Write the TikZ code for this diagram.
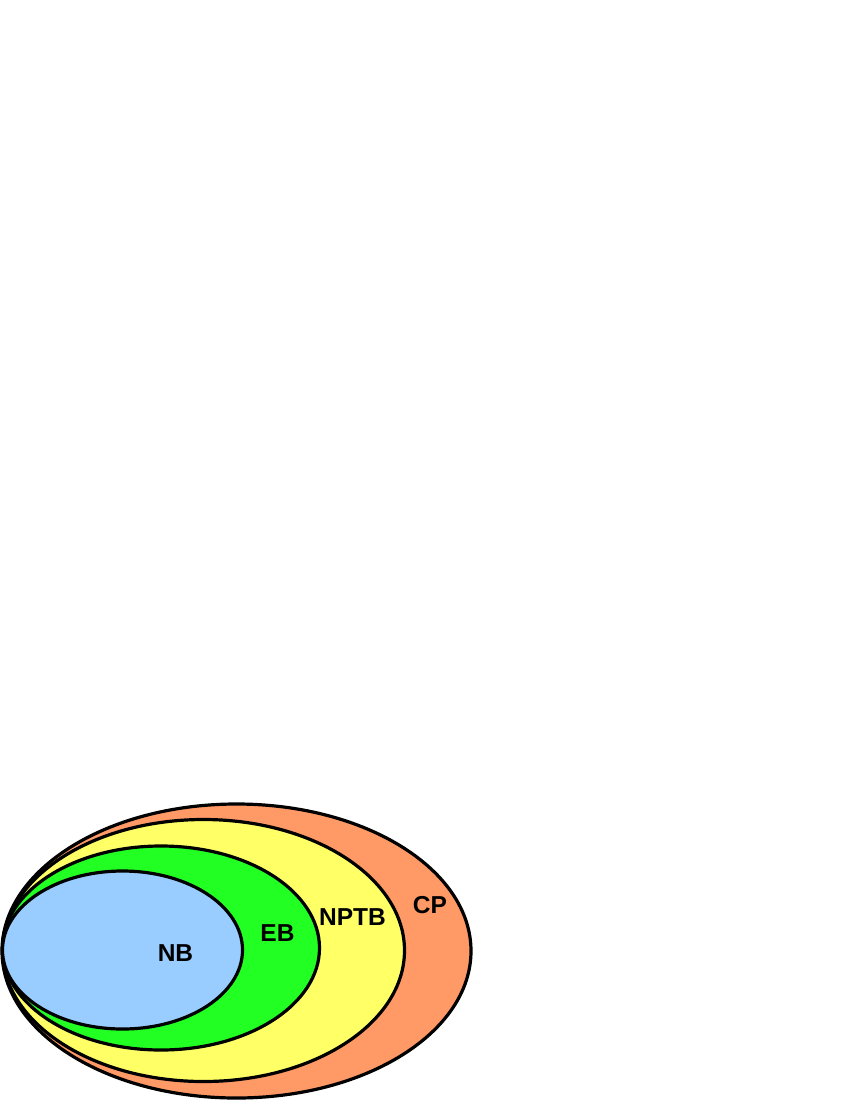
\documentclass[tikz,border=0pt]{standalone}
\usepackage{fontspec}
\setmainfont{Liberation Sans}
\definecolor{cpcol}{HTML}{FF9966}
\definecolor{nptbcol}{HTML}{FFFF66}
\definecolor{ebcol}{HTML}{22FF22}
\definecolor{nbcol}{HTML}{99CCFF}
\tikzset{
  setline/.style={draw=black, line width=3.2pt},
  lab/.style={font=\fontsize{24.5}{28}\selectfont\bfseries, inner sep=0pt}
}
\begin{document}
\begin{tikzpicture}[x=1pt,y=-1pt]
\useasboundingbox (0,0) rectangle (850,1100);
\fill[white] (0,0) rectangle (850,1100);
\filldraw[setline, fill=cpcol] (236.5,951) ellipse [x radius=234.5pt, y radius=147pt];
\filldraw[setline, fill=nptbcol] (203.5,950.5) ellipse [x radius=201pt, y radius=131pt];
\filldraw[setline, fill=ebcol] (161,948) ellipse [x radius=158.5pt, y radius=102pt];
\filldraw[setline, fill=nbcol] (122.5,950) ellipse [x radius=120pt, y radius=79pt];
\node[lab] (cp) at (430,905) {CP};
\node[lab] (nptb) at (352.5,917) {NPTB};
\node[lab] (eb) at (277.5,933) {EB};
\node[lab] (nb) at (175.5,953) {NB};
\end{tikzpicture}
\end{document}
